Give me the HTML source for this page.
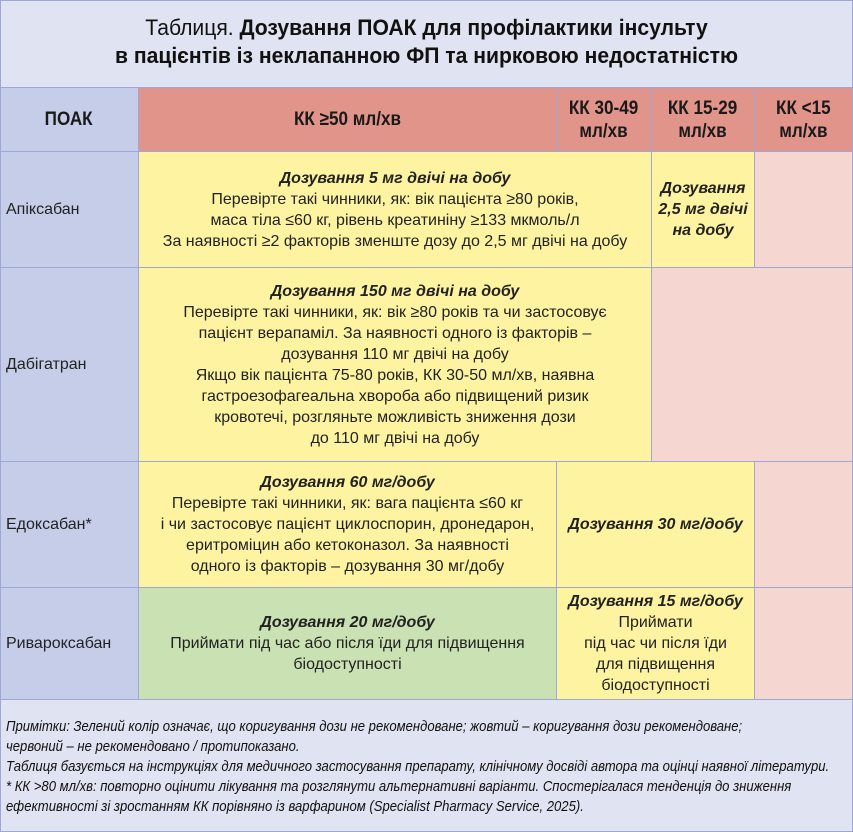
<!DOCTYPE html>
<html><head><meta charset="utf-8"><style>
*{margin:0;padding:0;box-sizing:border-box}
body{width:853px;height:832px;position:relative;background:#e0e3f1;font-family:"Liberation Sans",sans-serif;color:#222;overflow:hidden}
.c{position:absolute;display:flex;flex-direction:column;justify-content:center;align-items:center;text-align:center;font-size:16px;line-height:21px;border-right:1px solid #9ea8d6;border-bottom:1px solid #9ea8d6}
.h{font-weight:bold;font-size:19px;line-height:23px;color:#1a1a1a;white-space:nowrap}
.h span{display:inline-block;transform:scaleX(0.9)}
.y{background:#fdf3a0}.p{background:#f6d6d0}.g{background:#c9e1b3}.r{background:#e0948a}.b{background:#c5cde9}
i b,b i{font-weight:bold;font-style:italic}
.l{align-items:flex-start;padding-left:6px}
</style></head><body>
<div style="position:absolute;left:0;top:0;width:853px;height:832px;border:1.5px solid #9ea8d6;pointer-events:none;z-index:5"></div>
<div style="position:absolute;left:0;top:14px;width:853px;text-align:center;font-size:22px;line-height:28px;color:#111"><span style="display:inline-block;transform:scaleX(0.96);white-space:nowrap">Таблиця. <b>Дозування ПОАК для профілактики інсульту<br>в пацієнтів із неклапанною ФП та нирковою недостатністю</b></span></div>
<div style="position:absolute;left:0;top:87px;width:853px;border-top:1px solid #9ea8d6"></div>
<div class="c b h" style="left:0;top:88px;width:139px;height:64px"><span>ПОАК</span></div>
<div class="c r h" style="left:139px;top:88px;width:418px;height:64px"><span>КК ≥50 мл/хв</span></div>
<div class="c r h" style="left:557px;top:88px;width:95px;height:64px"><span>КК 30-49<br>мл/хв</span></div>
<div class="c r h" style="left:652px;top:88px;width:103px;height:64px"><span>КК 15-29<br>мл/хв</span></div>
<div class="c r h" style="left:755px;top:88px;width:98px;height:64px"><span>КК &lt;15<br>мл/хв</span></div>

<div class="c b l" style="left:0;top:152px;width:139px;height:116px">Апіксабан</div>
<div class="c y" style="left:139px;top:152px;width:513px;height:116px"><i><b>Дозування 5 мг двічі на добу</b></i>Перевірте такі чинники, як: вік пацієнта ≥80 років,<br>маса тіла ≤60 кг, рівень креатиніну ≥133 мкмоль/л<br>За наявності ≥2 факторів зменште дозу до 2,5 мг двічі на добу</div>
<div class="c y" style="left:652px;top:152px;width:103px;height:116px"><i><b>Дозування<br>2,5 мг двічі<br>на добу</b></i></div>
<div class="c p" style="left:755px;top:152px;width:98px;height:116px"></div>

<div class="c b l" style="left:0;top:268px;width:139px;height:194px">Дабігатран</div>
<div class="c y" style="left:139px;top:268px;width:513px;height:194px"><i><b>Дозування 150 мг двічі на добу</b></i>Перевірте такі чинники, як: вік ≥80 років та чи застосовує<br>пацієнт верапаміл. За наявності одного із факторів –<br>дозування 110 мг двічі на добу<br>Якщо вік пацієнта 75-80 років, КК 30-50 мл/хв, наявна<br>гастроезофагеальна хвороба або підвищений ризик<br>кровотечі, розгляньте можливість зниження дози<br>до 110 мг двічі на добу</div>
<div class="c p" style="left:652px;top:268px;width:201px;height:194px"></div>

<div class="c b l" style="left:0;top:462px;width:139px;height:126px">Едоксабан*</div>
<div class="c y" style="left:139px;top:462px;width:418px;height:126px"><i><b>Дозування 60 мг/добу</b></i>Перевірте такі чинники, як: вага пацієнта ≤60 кг<br>і чи застосовує пацієнт циклоспорин, дронедарон,<br>еритроміцин або кетоконазол. За наявності<br>одного із факторів – дозування 30 мг/добу</div>
<div class="c y" style="left:557px;top:462px;width:198px;height:126px"><i><b>Дозування 30 мг/добу</b></i></div>
<div class="c p" style="left:755px;top:462px;width:98px;height:126px"></div>

<div class="c b l" style="left:0;top:588px;width:139px;height:112px">Ривароксабан</div>
<div class="c g" style="left:139px;top:588px;width:418px;height:112px;justify-content:flex-start;padding-top:24px"><i><b>Дозування 20 мг/добу</b></i>Приймати під час або після їди для підвищення<br>біодоступності</div>
<div class="c y" style="left:557px;top:588px;width:198px;height:112px"><i><b>Дозування 15 мг/добу</b></i>Приймати<br>під час чи після їди<br>для підвищення<br>біодоступності</div>
<div class="c p" style="left:755px;top:588px;width:98px;height:112px"></div>

<div style="position:absolute;left:6px;top:717px;white-space:nowrap;transform:scaleX(0.872);transform-origin:0 0;font-style:italic;font-size:15px;line-height:20px;color:#111">Примітки: Зелений колір означає, що коригування дози не рекомендоване; жовтий – коригування дози рекомендоване;<br>червоний – не рекомендовано / протипоказано.<br>Таблиця базується на інструкціях для медичного застосування препарату, клінічному досвіді автора та оцінці наявної літератури.<br>* КК &gt;80 мл/хв: повторно оцінити лікування та розглянути альтернативні варіанти. Спостерігалася тенденція до зниження<br>ефективності зі зростанням КК порівняно із варфарином (Specialist Pharmacy Service, 2025).</div>
</body></html>
